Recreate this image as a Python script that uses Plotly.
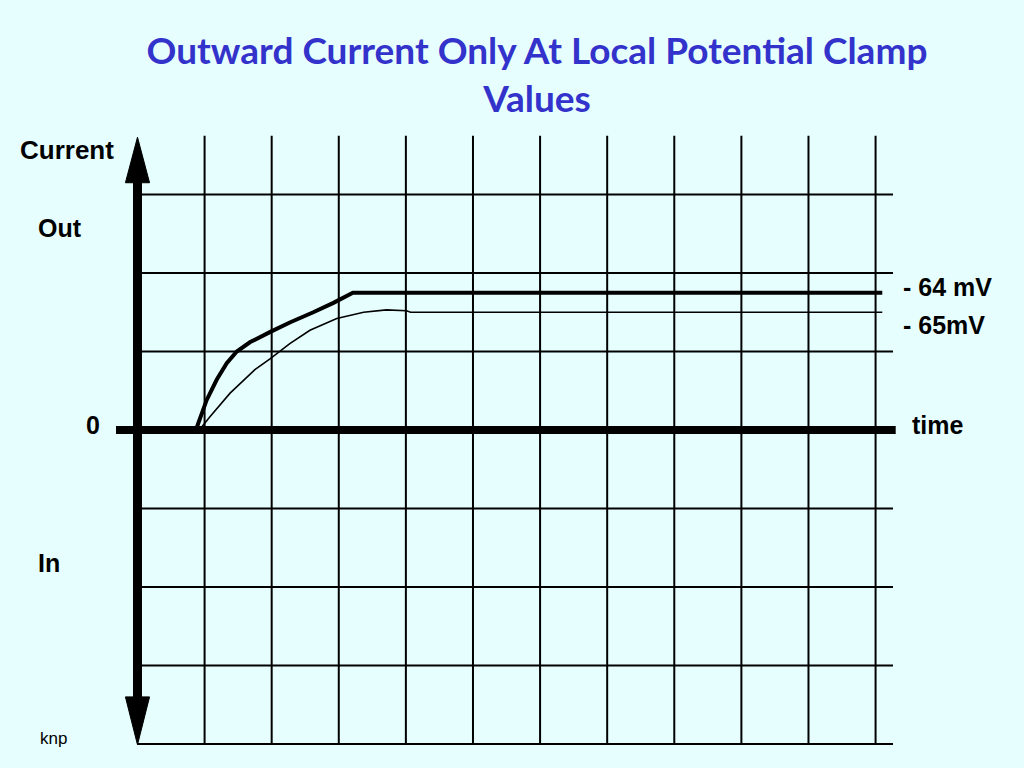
import plotly.graph_objects as go

# grid positions (in grid-cell units; x=0 is the current axis, y=0 is zero current)
grid_x = [1, 2, 3, 4, 5, 6, 7, 8, 9, 10, 11]
grid_y = [3, 2, 1, -1, -2, -3, -4]

# clamp at -64 mV (thick trace)
t_64 = [0.87, 1.03, 1.18, 1.33, 1.48, 1.68, 1.98, 2.27, 2.62, 2.92, 3.21, 11.1]
i_64 = [0.0, 0.38, 0.64, 0.85, 1.0, 1.12, 1.25, 1.37, 1.50, 1.62, 1.75, 1.75]

# clamp at -65 mV (thin trace)
t_65 = [0.92, 1.08, 1.38, 1.75, 1.98, 2.27, 2.57, 2.97, 3.37, 3.71, 4.01, 4.07, 11.1]
i_65 = [0.0, 0.17, 0.47, 0.77, 0.91, 1.10, 1.27, 1.42, 1.50, 1.53, 1.52, 1.50, 1.50]

BG = "#E6FFFE"
INK = "black"

fig = go.Figure()

# vertical grid lines
gx, gy = [], []
for x in grid_x:
    gx += [x, x, None]
    gy += [-4, 3.75, None]
# horizontal grid lines
for y in grid_y:
    gx += [0, 11.26, None]
    gy += [y, y, None]
fig.add_trace(go.Scatter(x=gx, y=gy, mode="lines", line=dict(color=INK, width=2),
                         hoverinfo="skip", showlegend=False))

# zero-current (time) axis
fig.add_trace(go.Scatter(x=[-0.32, 11.3], y=[0, 0], mode="lines",
                         line=dict(color=INK, width=8), hoverinfo="skip", showlegend=False))

# current axis with arrow heads
fig.add_trace(go.Scatter(x=[0, 0], y=[-3.45, 3.2], mode="lines",
                         line=dict(color=INK, width=9), hoverinfo="skip", showlegend=False))
fig.add_trace(go.Scatter(x=[-0.18, 0.18, 0, -0.18], y=[3.15, 3.15, 3.73, 3.15],
                         mode="lines", fill="toself", fillcolor=INK, line=dict(color=INK, width=1),
                         hoverinfo="skip", showlegend=False))
fig.add_trace(go.Scatter(x=[-0.18, 0.18, 0, -0.18], y=[-3.40, -3.40, -4.01, -3.40],
                         mode="lines", fill="toself", fillcolor=INK, line=dict(color=INK, width=1),
                         hoverinfo="skip", showlegend=False))

# current traces
fig.add_trace(go.Scatter(x=t_65, y=i_65, mode="lines", name="- 65mV",
                         line=dict(color=INK, width=1.6), showlegend=False))
fig.add_trace(go.Scatter(x=t_64, y=i_64, mode="lines", name="- 64 mV",
                         line=dict(color=INK, width=4), showlegend=False))

lab = dict(family="Liberation Sans, Arial, sans-serif", size=25, color=INK)
annotations = [
    dict(text="<b>Current</b>", x=67 / 1024, y=1 - 150 / 768, xanchor="center"),
    dict(text="<b>Out</b>", x=60 / 1024, y=1 - 228 / 768, xanchor="center"),
    dict(text="<b>0</b>", x=93 / 1024, y=1 - 425 / 768, xanchor="center"),
    dict(text="<b>In</b>", x=49 / 1024, y=1 - 563 / 768, xanchor="center"),
    dict(text="<b>- 64 mV</b>", x=901 / 1024, y=1 - 287 / 768, xanchor="left"),
    dict(text="<b>- 65mV</b>", x=901 / 1024, y=1 - 325 / 768, xanchor="left"),
    dict(text="<b>time</b>", x=910 / 1024, y=1 - 425 / 768, xanchor="left"),
]
for a in annotations:
    a.update(xref="paper", yref="paper", yanchor="middle", showarrow=False, font=lab)
annotations[0]["font"] = dict(lab, size=26)
annotations.append(dict(text="knp", x=53 / 1024, y=1 - 738 / 768, xref="paper", yref="paper",
                        xanchor="center", yanchor="middle", showarrow=False,
                        font=dict(family="Liberation Sans, Arial, sans-serif", size=17, color=INK)))

fig.update_layout(
    width=1024,
    height=768,
    margin=dict(l=0, r=0, t=0, b=0),
    paper_bgcolor=BG,
    plot_bgcolor=BG,
    title=dict(
        text="<b>Outward Current Only At Local Potential Clamp<br>Values</b>",
        x=537 / 1024, xanchor="center", y=1 - 64 / 768, yanchor="middle",
        font=dict(family="Lato, Open Sans, sans-serif", size=37, color="#3333CC"),
    ),
    xaxis=dict(range=[-2.049, 13.212], visible=False, fixedrange=True),
    yaxis=dict(range=[-4.306, 5.478], visible=False, fixedrange=True),
    annotations=annotations,
)

# drop the default page margin so the figure fills the window
fig.write_html("out.html", config={"displayModeBar": False},
               post_script="document.body.style.margin='0';")
